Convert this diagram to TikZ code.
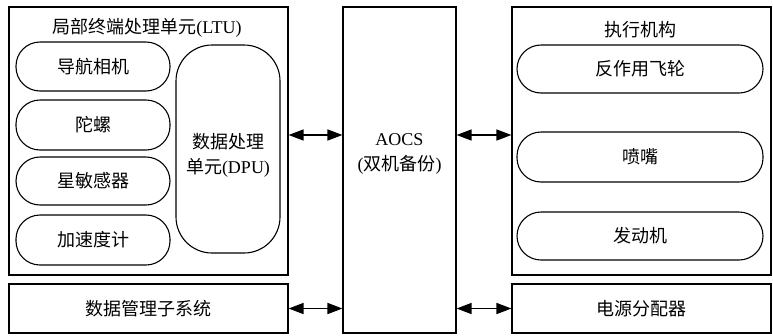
\documentclass[tikz,border=0pt]{standalone}
\usepackage{fontspec}
\setmainfont{Liberation Serif}
\newfontfamily\cjk{Noto Sans CJK SC}
\usetikzlibrary{arrows.meta}
\tikzset{
  frame/.style={draw, line width=1.1pt, inner sep=0pt, font=\fontsize{18}{22}\selectfont},
  pill/.style={draw, line width=1.1pt, inner sep=0pt, rounded corners=24pt, font=\fontsize{18}{22}\selectfont},
  txt/.style={inner sep=0pt, font=\fontsize{18}{25}\selectfont, align=center},
  biarrow/.style={line width=1.4pt, {Triangle[length=15pt,width=11pt]}-{Triangle[length=15pt,width=11pt]}}
}
\begin{document}
\begin{tikzpicture}[x=1pt,y=-1pt]
\useasboundingbox[fill=white] (0,0) rectangle (773,335);

% local terminal unit
\node[frame, minimum width=279pt, minimum height=268pt] (ltu) at (148.5,141) {};
\node[txt] (ltut) at (147,28) {{\cjk 局部终端处理单元}(LTU)};
\node[pill, minimum width=154pt, minimum height=49pt] (cam) at (93,66.5) {\cjk 导航相机};
\node[pill, minimum width=154pt, minimum height=50pt] (gyro) at (93,125) {\cjk 陀螺};
\node[pill, minimum width=154pt, minimum height=48pt] (star) at (93,181) {\cjk 星敏感器};
\node[pill, minimum width=154pt, minimum height=50pt] (acc) at (93,240) {\cjk 加速度计};
\node[pill, rounded corners=36pt, minimum width=104pt, minimum height=208pt] (dpu) at (228,149) {};
\node[txt] (dput) at (228,155) {\cjk 数据处理\\{\cjk 单元}(DPU)};

% data management
\node[frame, minimum width=279pt, minimum height=49pt] (dms) at (148.5,308.5) {\cjk 数据管理子系统};

% attitude and orbit control
\node[frame, minimum width=113pt, minimum height=326pt] (aocs) at (399.5,170) {};
\node[txt] (aocst) at (399.5,154) {AOCS\\({\cjk 双机备份})};

% actuators
\node[frame, minimum width=259pt, minimum height=268pt] (act) at (641.5,141) {};
\node[txt] (actt) at (640,30) {\cjk 执行机构};
\node[pill, minimum width=246pt, minimum height=48pt] (wheel) at (640,69) {\cjk 反作用飞轮};
\node[pill, minimum width=246pt, minimum height=50pt] (noz) at (640,157) {\cjk 喷嘴};
\node[pill, minimum width=246pt, minimum height=48pt] (eng) at (640,236) {\cjk 发动机};

% power distribution
\node[frame, minimum width=259pt, minimum height=49pt] (pdu) at (641.5,308.5) {\cjk 电源分配器};

% links
\coordinate (bus) at (0,135);
\draw[biarrow] (ltu.east |- bus) -- (aocs.west |- bus);
\draw[biarrow] (aocs.east |- bus) -- (act.west |- bus);
\draw[biarrow] (dms.east) -- (aocs.west |- dms.east);
\draw[biarrow] (aocs.east |- pdu.west) -- (pdu.west);
\end{tikzpicture}
\end{document}
